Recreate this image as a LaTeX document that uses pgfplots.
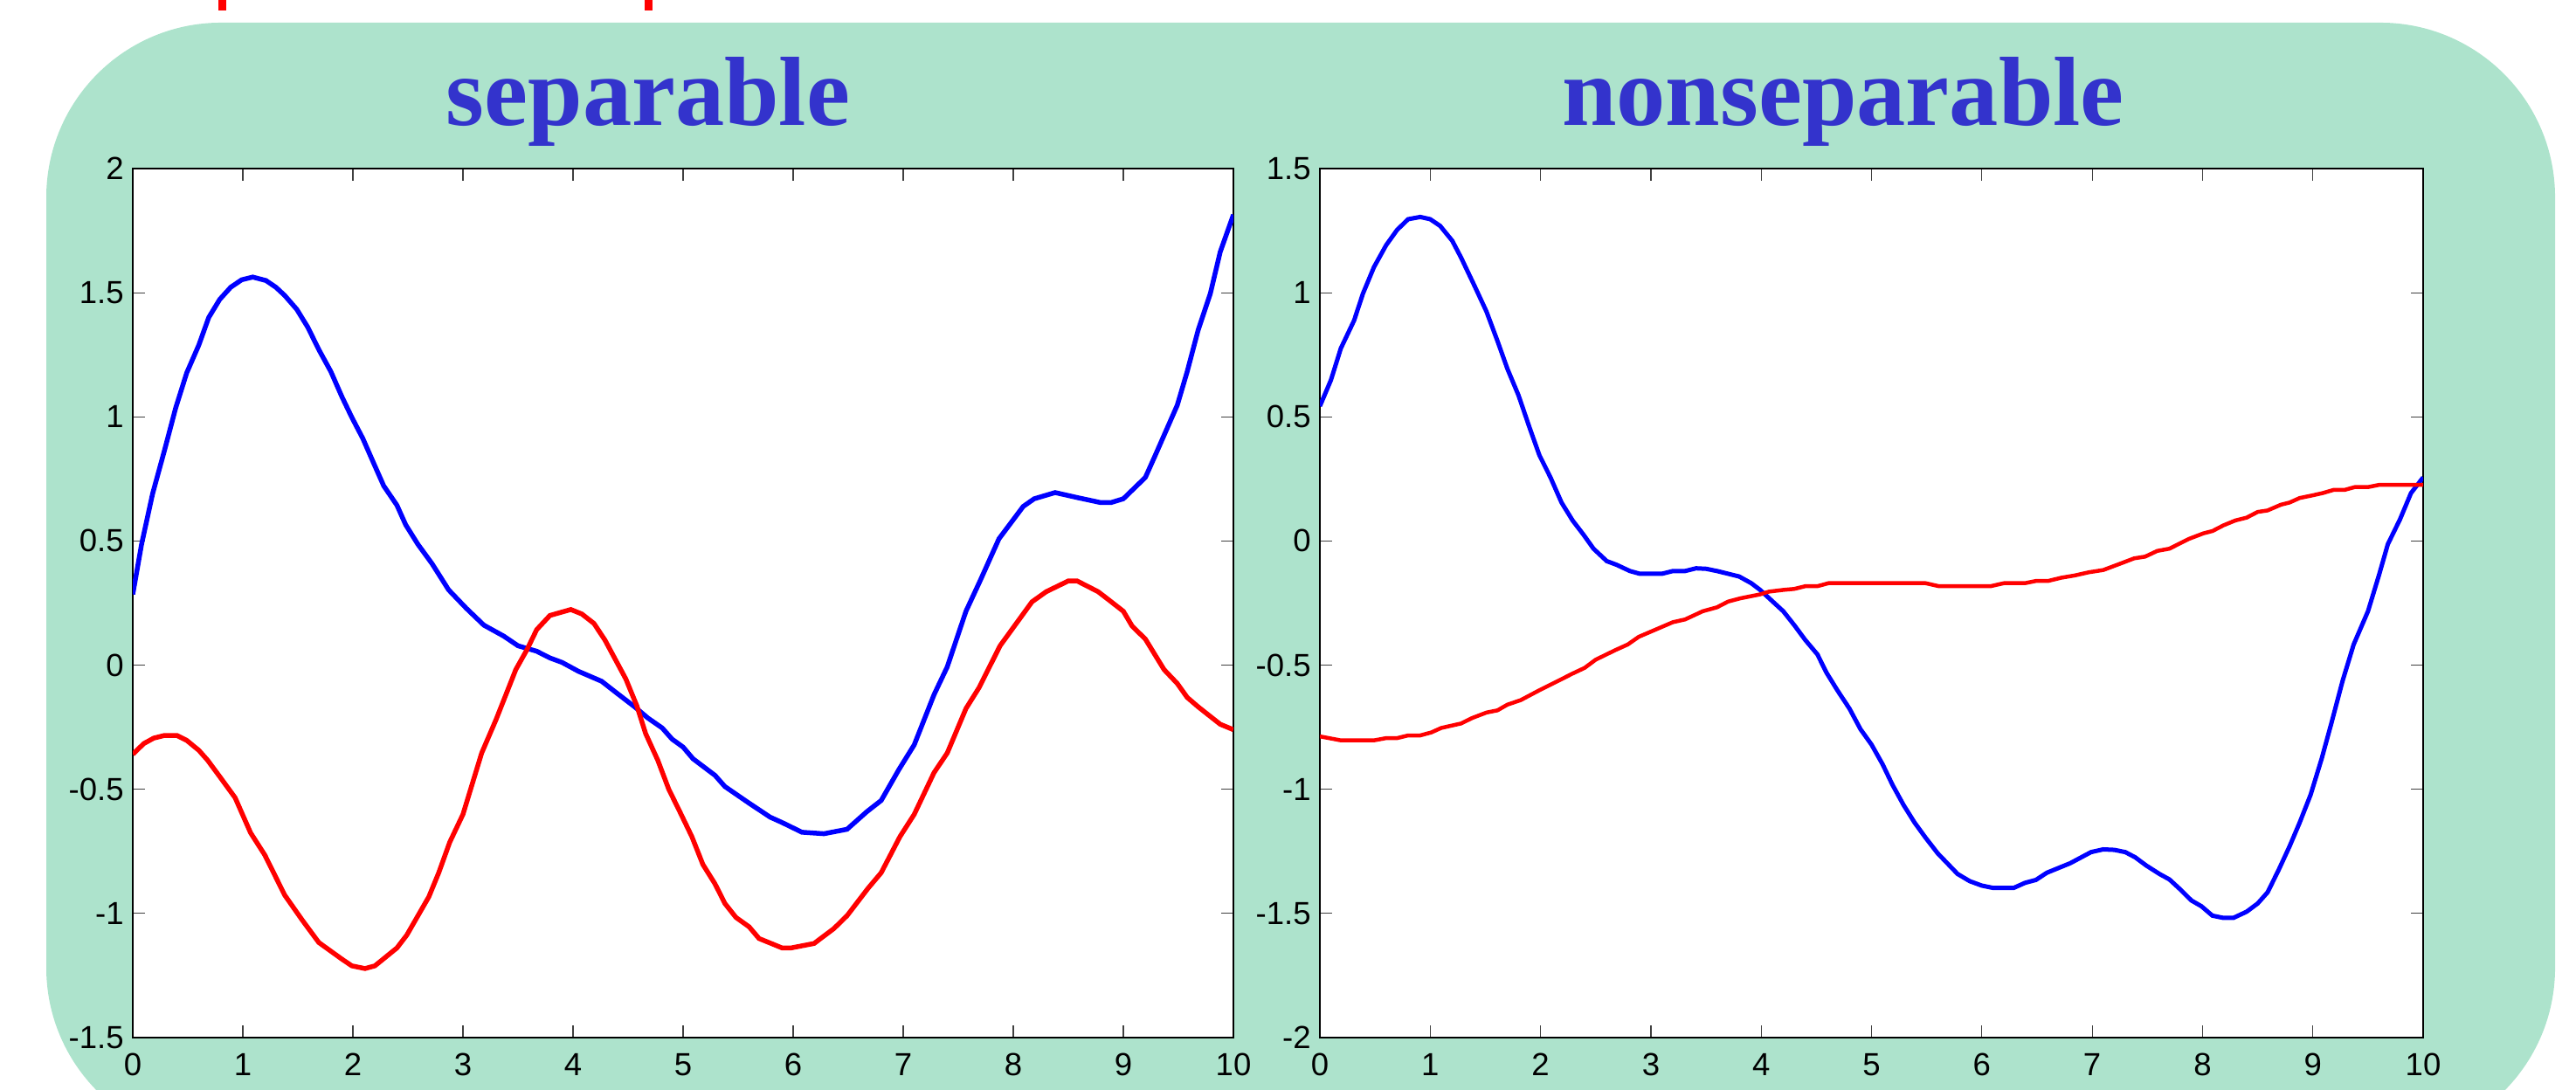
\documentclass[border=0pt]{standalone}
\usepackage{fontspec}
\setmainfont{Liberation Sans}
\newfontfamily\titlefont{Liberation Serif}
\usepackage{pgfplots}
\pgfplotsset{compat=1.18}
\definecolor{bggreen}{RGB}{173,227,204}
\definecolor{titleblue}{RGB}{51,51,204}
\begin{document}
\begin{tikzpicture}
\path[use as bounding box] (0,0) rectangle (294.9mm,124.8mm);
\clip (0,0) rectangle (294.9mm,124.8mm);
\begin{scope}[x=0.1mm,y=0.1mm]
\fill[bggreen, rounded corners=20mm] (53,-60) rectangle (2925,1222);
\fill[red] (250,1236) rectangle (259,1260);
\fill[red] (738,1236) rectangle (747,1260);
\node[anchor=base, inner sep=0pt, text=titleblue, font=\titlefont\bfseries\fontsize{32}{36}\selectfont] at (742,1104) {separable};
\node[anchor=base, inner sep=0pt, text=titleblue, font=\titlefont\bfseries\fontsize{32}{36}\selectfont] at (2110,1104) {nonseparable};
\end{scope}
\pgfplotsset{
  myaxis/.style={
    scale only axis,
    anchor=south west,
    height=99.5mm,
    xmin=0, xmax=10,
    xtick={0,1,2,3,4,5,6,7,8,9,10},
    xticklabels={0,1,2,3,4,5,6,7,8,9,10},
    tick align=inside,
    major tick length=1.4mm,
    axis line style={line width=0.6pt, black},
    every tick/.style={line width=0.35pt, black!75},
    axis background/.style={fill=white},
    tick label style={font=\fontsize{10.4}{12}\selectfont},
    yticklabel style={xshift=0.2mm},
    xticklabel style={yshift=-0.6mm},
    clip=true,
  }
}
\begin{axis}[myaxis, at={(15.2mm,6.0mm)}, width=126mm,
  ymin=-1.5, ymax=2,
  ytick={-1.5,-1,-0.5,0,0.5,1,1.5,2},
  yticklabels={-1.5,-1,-0.5,0,0.5,1,1.5,2}]
\addplot[blue, line width=0.55mm] coordinates {
(0,0.285)(0.08,0.487)(0.18,0.69)(0.29,0.868)(0.39,1.036)(0.49,1.177)(0.60,1.289)(0.69,1.40)(0.79,1.473)(0.89,1.522)(0.99,1.552)(1.09,1.563)(1.21,1.549)(1.30,1.522)(1.38,1.489)(1.49,1.433)(1.59,1.361)(1.69,1.271)(1.80,1.182)(1.90,1.081)(1.99,0.998)(2.09,0.913)(2.19,0.812)(2.28,0.722)(2.40,0.644)(2.48,0.565)(2.59,0.487)(2.72,0.408)(2.87,0.303)(3.03,0.229)(3.19,0.161)(3.37,0.117)(3.50,0.078)(3.67,0.056)(3.79,0.029)(3.90,0.011)(4.05,-0.025)(4.26,-0.065)(4.39,-0.110)(4.56,-0.168)(4.68,-0.213)(4.81,-0.253)(4.90,-0.298)(5.0,-0.33)(5.09,-0.377)(5.29,-0.444)(5.38,-0.489)(5.60,-0.556)(5.79,-0.612)(5.90,-0.634)(6.08,-0.673)(6.28,-0.679)(6.49,-0.661)(6.67,-0.590)(6.80,-0.545)(6.96,-0.421)(7.10,-0.321)(7.28,-0.119)(7.40,-0.007)(7.57,0.217)(7.70,0.341)(7.87,0.509)(8.09,0.639)(8.19,0.670)(8.38,0.695)(8.58,0.675)(8.79,0.655)(8.89,0.655)(9.00,0.670)(9.20,0.756)(9.29,0.845)(9.49,1.047)(9.58,1.182)(9.68,1.350)(9.79,1.496)(9.88,1.664)(10.0,1.814)
};
\addplot[red, line width=0.55mm] coordinates {
(0,-0.359)(0.10,-0.316)(0.19,-0.294)(0.29,-0.283)(0.40,-0.283)(0.49,-0.303)(0.60,-0.343)(0.68,-0.383)(0.80,-0.455)(0.93,-0.534)(1.07,-0.675)(1.20,-0.765)(1.38,-0.926)(1.54,-1.027)(1.69,-1.117)(1.90,-1.184)(1.99,-1.211)(2.11,-1.222)(2.20,-1.211)(2.40,-1.139)(2.49,-1.087)(2.69,-0.933)(2.78,-0.836)(2.88,-0.713)(3.0,-0.601)(3.17,-0.354)(3.30,-0.220)(3.40,-0.108)(3.48,-0.018)(3.58,0.061)(3.67,0.143)(3.79,0.200)(3.98,0.224)(4.08,0.206)(4.19,0.168)(4.29,0.101)(4.48,-0.056)(4.58,-0.164)(4.66,-0.276)(4.77,-0.383)(4.87,-0.500)(4.97,-0.59)(5.08,-0.691)(5.18,-0.803)(5.29,-0.881)(5.38,-0.960)(5.48,-1.016)(5.60,-1.054)(5.69,-1.101)(5.90,-1.139)(5.98,-1.139)(6.19,-1.121)(6.37,-1.061)(6.49,-1.009)(6.68,-0.899)(6.80,-0.836)(6.97,-0.691)(7.10,-0.601)(7.28,-0.433)(7.40,-0.354)(7.57,-0.175)(7.69,-0.090)(7.88,0.078)(7.98,0.139)(8.17,0.255)(8.30,0.296)(8.50,0.339)(8.58,0.339)(8.77,0.296)(8.87,0.262)(9.00,0.217)(9.08,0.157)(9.20,0.105)(9.37,-0.018)(9.49,-0.074)(9.58,-0.130)(9.68,-0.168)(9.88,-0.238)(10.0,-0.260)
};
\end{axis}
\begin{axis}[myaxis, at={(151.1mm,6.0mm)}, width=126.3mm,
  ymin=-2, ymax=1.5,
  ytick={-2,-1.5,-1,-0.5,0,0.5,1,1.5},
  yticklabels={-2,-1.5,-1,-0.5,0,0.5,1,1.5}]
\addplot[blue, line width=0.5mm] coordinates {
(0,0.543)(0.10,0.648)(0.19,0.776)(0.31,0.888)(0.39,0.996)(0.49,1.103)(0.60,1.191)(0.70,1.253)(0.80,1.296)(0.91,1.305)(1.0,1.296)(1.09,1.269)(1.20,1.209)(1.28,1.141)(1.40,1.029)(1.51,0.924)(1.61,0.805)(1.70,0.693)(1.80,0.587)(1.90,0.457)(1.99,0.345)(2.09,0.256)(2.19,0.155)(2.29,0.083)(2.39,0.025)(2.48,-0.031)(2.60,-0.081)(2.69,-0.096)(2.81,-0.121)(2.90,-0.132)(3.10,-0.132)(3.20,-0.121)(3.31,-0.121)(3.41,-0.110)(3.50,-0.112)(3.60,-0.121)(3.80,-0.143)(3.91,-0.170)(3.99,-0.197)(4.09,-0.238)(4.20,-0.283)(4.30,-0.339)(4.40,-0.399)(4.51,-0.457)(4.59,-0.529)(4.69,-0.601)(4.80,-0.675)(4.90,-0.758)(5.0,-0.82)(5.10,-0.899)(5.19,-0.982)(5.29,-1.063)(5.39,-1.134)(5.49,-1.195)(5.60,-1.258)(5.78,-1.341)(5.89,-1.370)(6.00,-1.388)(6.10,-1.397)(6.29,-1.397)(6.39,-1.377)(6.49,-1.365)(6.59,-1.336)(6.80,-1.298)(6.99,-1.253)(7.10,-1.242)(7.20,-1.244)(7.30,-1.253)(7.39,-1.274)(7.49,-1.307)(7.61,-1.341)(7.70,-1.363)(7.80,-1.404)(7.90,-1.448)(7.99,-1.471)(8.09,-1.509)(8.19,-1.518)(8.28,-1.518)(8.40,-1.493)(8.50,-1.460)(8.59,-1.415)(8.69,-1.325)(8.79,-1.229)(8.88,-1.135)(8.98,-1.022)(9.08,-0.877)(9.17,-0.731)(9.27,-0.563)(9.37,-0.417)(9.50,-0.283)(9.60,-0.137)(9.68,-0.013)(9.79,0.087)(9.89,0.193)(10,0.256)
};
\addplot[red, line width=0.45mm] coordinates {
(0,-0.787)(0.19,-0.803)(0.49,-0.803)(0.60,-0.794)(0.70,-0.794)(0.80,-0.783)(0.91,-0.783)(1.01,-0.771)(1.10,-0.753)(1.28,-0.735)(1.38,-0.713)(1.51,-0.691)(1.61,-0.682)(1.70,-0.659)(1.82,-0.641)(1.99,-0.601)(2.13,-0.570)(2.29,-0.534)(2.40,-0.511)(2.50,-0.478)(2.68,-0.439)(2.79,-0.417)(2.89,-0.386)(3.0,-0.365)(3.20,-0.327)(3.31,-0.316)(3.47,-0.283)(3.60,-0.267)(3.70,-0.244)(3.81,-0.231)(3.99,-0.215)(4.07,-0.204)(4.20,-0.197)(4.30,-0.193)(4.40,-0.182)(4.51,-0.182)(4.61,-0.170)(5.03,-0.170)(5.49,-0.170)(5.61,-0.182)(6.08,-0.182)(6.20,-0.170)(6.39,-0.170)(6.49,-0.161)(6.60,-0.161)(6.72,-0.148)(6.84,-0.139)(6.97,-0.126)(7.10,-0.117)(7.28,-0.087)(7.38,-0.070)(7.48,-0.063)(7.59,-0.040)(7.70,-0.031)(7.88,0.009)(8.01,0.031)(8.09,0.040)(8.19,0.063)(8.30,0.083)(8.40,0.094)(8.50,0.117)(8.59,0.123)(8.71,0.146)(8.79,0.155)(8.88,0.173)(9.0,0.184)(9.09,0.193)(9.19,0.206)(9.29,0.206)(9.38,0.217)(9.50,0.217)(9.60,0.226)(10,0.226)
};
\end{axis}
\end{tikzpicture}
\end{document}
